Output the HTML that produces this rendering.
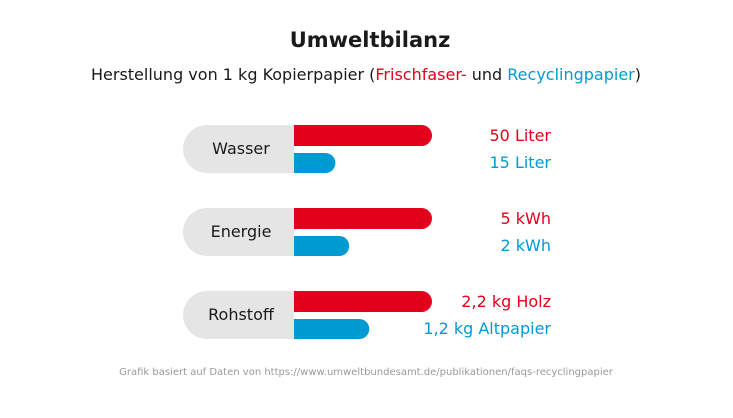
<!DOCTYPE html>
<html><head><meta charset="utf-8"><style>
body{margin:0;background:#fff;width:733px;height:414px;overflow:hidden;font-family:"DejaVu Sans","Liberation Sans",sans-serif}
</style></head><body>
<svg width="733" height="414" style="font-family:'DejaVu Sans','Liberation Sans',sans-serif">
<text x="370" y="47" text-anchor="middle" font-size="21" font-weight="bold" fill="#1a1a1a">Umweltbilanz</text>
<text x="366" y="80" text-anchor="middle" font-size="16" fill="#1a1a1a">Herstellung von 1 kg Kopierpapier (<tspan fill="#e2001a">Frischfaser-</tspan> und <tspan fill="#009ad3">Recyclingpapier</tspan>)</text>
<g id="bars"></g>
<text x="366" y="375" text-anchor="middle" font-size="10" fill="#999">Grafik basiert auf Daten von https://www.umweltbundesamt.de/publikationen/faqs-recyclingpapier</text>
</svg>
<script>
const categories=["Wasser","Energie","Rohstoff"];
const freshValues=[50,5,2.2];
const recycledValues=[15,2,1.2];
const freshLabels=["50 Liter","5 kWh","2,2 kg Holz"];
const recycledLabels=["15 Liter","2 kWh","1,2 kg Altpapier"];
const NS="http://www.w3.org/2000/svg";
const g=document.getElementById("bars");
const x0=294,maxW=138;
function xScale(v,max){return v/max*maxW;}
function yGroup(i){return 125+i*83;}
function el(t,a){const e=document.createElementNS(NS,t);for(const k in a)e.setAttribute(k,a[k]);g.appendChild(e);return e;}
function bar(x,y,w,h,c){const r=h/2;const d=`M${x},${y}H${x+w-r}A${r},${r} 0 0 1 ${x+w-r},${y+h}H${x}Z`;return el("path",{d:d,fill:c});}
categories.forEach((c,i)=>{
 const y=yGroup(i);
 const max=Math.max(freshValues[i],recycledValues[i]);
 const p=el("path",{d:`M${x0},${y}H207A24,24 0 0 0 207,${y+48}H${x0}Z`,fill:"#e5e5e5"});
 
 
 const t=el("text",{x:241,y:y+29,"text-anchor":"middle","font-size":"16",fill:"#1a1a1a"});t.textContent=c;
 
 
 const b1=bar(x0,y,xScale(freshValues[i],max),21,"#e2001a");
 
 
 const b2=bar(x0,y+28,xScale(recycledValues[i],max),20,"#009ad3");
 
 
 const l1=el("text",{x:551,y:y+16,"text-anchor":"end","font-size":"16",fill:"#e2001a"});l1.textContent=freshLabels[i];
 
 
 const l2=el("text",{x:551,y:y+43,"text-anchor":"end","font-size":"16",fill:"#009ad3"});l2.textContent=recycledLabels[i];
 
 
});
</script>
</body></html>
